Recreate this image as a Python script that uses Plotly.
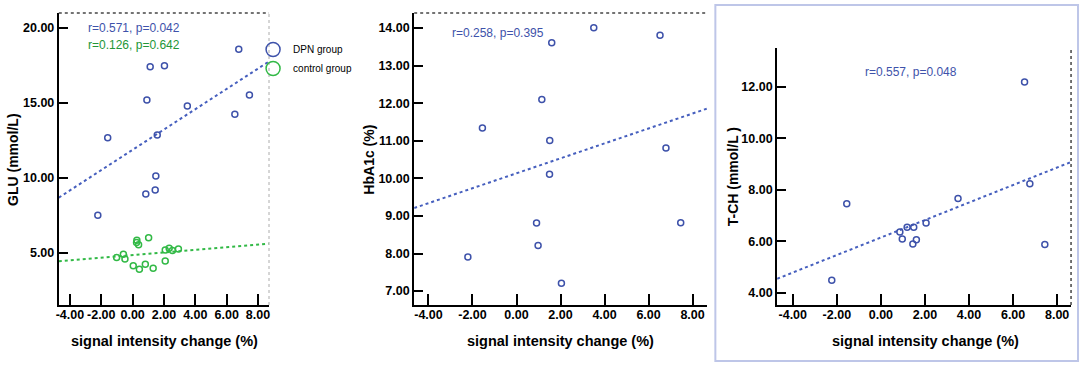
import numpy as np
import plotly.graph_objects as go

W, H = 1084, 366

# ---------------- data ----------------
# Panel 1: GLU vs signal intensity change
glu_dpn_x = [6.77, 1.12, 2.03, 7.45, 0.91, 3.49, 6.52, -1.59, 1.57, 1.48, 0.84, 1.44, -2.22]
glu_dpn_y = [18.58, 17.42, 17.49, 15.53, 15.20, 14.80, 14.25, 12.69, 12.87, 10.13, 8.93, 9.20, 7.51]
glu_ctl_x = [0.27, 0.38, 0.25, 1.02, -1.02, -0.59, -0.49, 0.04, 0.43, 0.81, 1.31, 2.08, 2.33, 2.92, 2.08, 2.54]
glu_ctl_y = [5.85, 5.55, 5.70, 6.02, 4.69, 4.91, 4.60, 4.15, 3.91, 4.25, 3.98, 5.20, 5.31, 5.27, 4.47, 5.17]

# Panel 2: HbA1c
hba_x = [-1.55, 1.60, 3.51, 6.52, 1.15, 1.51, 6.79, 1.50, 0.91, 0.98, -2.21, 2.04, 7.46]
hba_y = [11.34, 13.61, 14.01, 13.81, 12.10, 11.01, 10.81, 10.11, 8.81, 8.21, 7.91, 7.21, 8.82]

# Panel 3: T-CH
tch_x = [6.52, -1.55, 6.76, 3.50, 0.86, 1.19, 1.49, 2.05, 0.97, 1.45, 1.61, 7.44, -2.23]
tch_y = [12.18, 7.46, 8.23, 7.66, 6.36, 6.55, 6.55, 6.71, 6.09, 5.90, 6.06, 5.88, 4.49]

x_ticks = [-4, -2, 0, 2, 4, 6, 8]
y1_ticks = [5, 10, 15, 20]
y2_ticks = [7, 8, 9, 10, 11, 12, 13, 14]
y3_ticks = [4, 6, 8, 10, 12]

x_ranges = [[-4.71, 8.70], [-4.65, 8.65], [-4.71, 8.63]]
y_ranges = [[1.53, 21.0], [6.63, 14.40], [3.53, 13.50]]

stats = ["r=0.571, p=0.042", "r=0.126, p=0.642", "r=0.258, p=0.395", "r=0.557, p=0.048"]
legend_names = ["DPN group", "control group"]
x_title = "signal intensity change (%)"
y_titles = ["GLU (mmol/L)", "HbA1c (%)", "T-CH (mmol/L )"]

BLUE = "rgb(62,82,170)"
BLUE_LINE = "rgb(70,95,190)"
GREEN = "rgb(50,185,70)"
GREEN_TXT = "rgb(35,150,55)"
FONT = "Liberation Sans, Arial, sans-serif"

def px_x(p):
    return p / W

def px_y(p):
    return 1 - p / H

fig = go.Figure()

def add_points(x, y, color, ax):
    fig.add_trace(go.Scatter(x=x, y=y, mode="markers", showlegend=False,
                             marker=dict(symbol="circle-open", size=6, color=color,
                                         line=dict(width=1.5, color=color)),
                             xaxis="x" + ax, yaxis="y" + ax))

def add_fit(x, y, xr, color, ax):
    k, b = np.polyfit(x, y, 1)
    xs = np.array(xr)
    fig.add_trace(go.Scatter(x=xs, y=k * xs + b, mode="lines", showlegend=False,
                             line=dict(color=color, width=2, dash="dot"),
                             xaxis="x" + ax, yaxis="y" + ax))

add_fit(glu_dpn_x, glu_dpn_y, x_ranges[0], BLUE_LINE, "")
add_fit(glu_ctl_x, glu_ctl_y, x_ranges[0], GREEN, "")
add_points(glu_dpn_x, glu_dpn_y, BLUE, "")
add_points(glu_ctl_x, glu_ctl_y, GREEN, "")
add_fit(hba_x, hba_y, x_ranges[1], BLUE_LINE, "2")
add_points(hba_x, hba_y, BLUE, "2")
add_fit(tch_x, tch_y, x_ranges[2], BLUE_LINE, "3")
add_points(tch_x, tch_y, BLUE, "3")

# legend entries
for name, col in zip(legend_names, [BLUE, GREEN]):
    fig.add_trace(go.Scatter(x=[None], y=[None], mode="markers", name=name,
                             marker=dict(symbol="circle-open", size=14, color=col,
                                         line=dict(width=1.5, color=col))))

tickfont = dict(family=FONT, size=12.5, color="black", weight="bold")

def xaxis(dom, rng, anchor):
    return dict(domain=dom, range=rng, anchor=anchor, showgrid=False, zeroline=False,
                showline=True, linecolor="black", linewidth=2, ticks="inside", ticklen=11,
                tickwidth=2, tickcolor="black", tickvals=x_ticks, ticklabelstandoff=-3,
                ticktext=[f"{v:.2f}" for v in x_ticks], tickfont=tickfont)

def yaxis(dom, rng, anchor, tv):
    return dict(domain=dom, range=rng, anchor=anchor, showgrid=False, zeroline=False,
                showline=True, linecolor="black", linewidth=2, ticks="inside", ticklen=9,
                tickwidth=2, tickcolor="black", tickvals=tv,
                ticktext=[f"{v:.2f}" for v in tv], tickfont=tickfont)

yb = px_y(305)
fig.update_layout(
    width=W, height=H, margin=dict(l=0, r=0, t=0, b=0),
    paper_bgcolor="white", plot_bgcolor="white",
    xaxis=xaxis([px_x(56), px_x(267)], x_ranges[0], "y"),
    yaxis=yaxis([yb, px_y(13)], y_ranges[0], "x", y1_ticks),
    xaxis2=xaxis([px_x(412.7), px_x(706.5)], x_ranges[1], "y2"),
    yaxis2=yaxis([yb, px_y(13)], y_ranges[1], "x2", y2_ticks),
    xaxis3=xaxis([px_x(777), px_x(1072)], x_ranges[2], "y3"),
    yaxis3=yaxis([yb, px_y(48)], y_ranges[2], "x3", y3_ticks),
    showlegend=True,
    legend=dict(x=px_x(251), y=px_y(35), xanchor="left", yanchor="top",
                bgcolor="rgba(0,0,0,0)", font=dict(family=FONT, size=10, color="black"),
                tracegroupgap=0, itemwidth=30),
)

shapes = []
# panel 1 frame dotted lines
shapes.append(dict(type="line", xref="x domain", yref="y domain", x0=0, x1=1, y0=1, y1=1,
                   line=dict(color="rgb(70,70,70)", width=1.5, dash="dot")))
shapes.append(dict(type="line", xref="x domain", yref="y domain", x0=1, x1=1, y0=0, y1=1,
                   line=dict(color="rgb(200,200,200)", width=1.5, dash="dot")))
# panel 2 top dotted
shapes.append(dict(type="line", xref="x2 domain", yref="y2 domain", x0=0, x1=1, y0=1, y1=1,
                   line=dict(color="rgb(70,70,70)", width=1.5, dash="dot")))
# panel 3 right dotted
shapes.append(dict(type="line", xref="x3 domain", yref="y3 domain", x0=1, x1=1, y0=0, y1=1,
                   line=dict(color="rgb(70,70,70)", width=1.5, dash="dot")))
# panel 3 border box
shapes.append(dict(type="rect", xref="paper", yref="paper", x0=px_x(715), x1=px_x(1079),
                   y0=px_y(361), y1=px_y(5), line=dict(color="rgb(190,198,232)", width=2),
                   layer="below"))
fig.update_layout(shapes=shapes)

ann = []
def text(x, y, s, color="black", size=12, bold=False, angle=0, xanchor="center"):
    ann.append(dict(x=px_x(x), y=px_y(y), xref="paper", yref="paper", text=s,
                    showarrow=False, textangle=angle, xanchor=xanchor, yanchor="middle",
                    font=dict(family=FONT, size=size, color=color,
                              weight="bold" if bold else "normal")))

text(83, 28, stats[0], BLUE, 12, xanchor="left")
text(83, 45, stats[1], GREEN_TXT, 12, xanchor="left")
text(449, 33, stats[2], BLUE, 12, xanchor="left")
text(863, 72, stats[3], BLUE, 12, xanchor="left")

for cx in [162, 560, 926]:
    text(cx, 341, x_title, size=14.5, bold=True)
text(10, 159, y_titles[0], size=14, bold=True, angle=-90)
text(367, 160, y_titles[1], size=14, bold=True, angle=-90)
text(733, 177, y_titles[2], size=14, bold=True, angle=-90)
fig.update_layout(annotations=ann)

fig.write_html("out.html", config={"displayModeBar": False},
               post_script="document.body.style.margin='0';document.body.style.padding='0';"
                           "document.body.style.overflow='hidden';")
